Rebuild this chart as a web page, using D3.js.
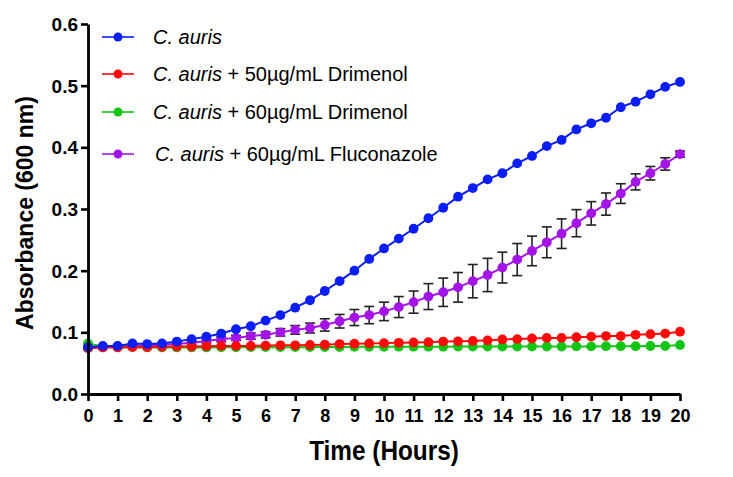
<!DOCTYPE html>
<html>
<head>
<meta charset="utf-8">
<script src="https://cdn.jsdelivr.net/npm/d3@7"></script>
<style>
  html, body { margin: 0; padding: 0; background: #fff; }
  svg { display: block; }
</style>
</head>
<body>
<svg id="chart" width="733" height="477"></svg>
<script>
const hours = d3.range(0, 20.01, 0.5);
const xTicks = d3.range(0, 21, 1);
const yTicks = [0.0, 0.1, 0.2, 0.3, 0.4, 0.5, 0.6];

const aurisControl = [0.076,0.078,0.078,0.082,0.081,0.082,0.085,0.089,0.093,0.098,0.105,0.110,0.119,0.128,0.140,0.152,0.167,0.183,0.200,0.219,0.236,0.252,0.268,0.285,0.302,0.320,0.334,0.348,0.358,0.374,0.386,0.402,0.412,0.429,0.439,0.448,0.465,0.474,0.486,0.498,0.506];
const drimenol50 = [0.074,0.0755,0.0755,0.076,0.076,0.0765,0.077,0.077,0.0775,0.078,0.078,0.078,0.0785,0.079,0.079,0.0795,0.080,0.081,0.0815,0.082,0.0825,0.083,0.0835,0.084,0.085,0.0855,0.086,0.087,0.0885,0.089,0.090,0.091,0.091,0.092,0.093,0.094,0.094,0.096,0.097,0.098,0.101];
const drimenol60 = [0.082,0.077,0.076,0.076,0.0755,0.0755,0.0755,0.0755,0.0755,0.0757,0.0757,0.076,0.076,0.076,0.076,0.076,0.0762,0.0762,0.0765,0.0765,0.0765,0.0767,0.0767,0.0767,0.0767,0.077,0.077,0.077,0.077,0.077,0.077,0.077,0.077,0.0772,0.0772,0.0775,0.0775,0.0775,0.0778,0.0778,0.0795];
const fluconazole60 = [0.075,0.076,0.077,0.078,0.079,0.080,0.081,0.083,0.086,0.089,0.091,0.094,0.096,0.100,0.104,0.107,0.112,0.118,0.124,0.128,0.134,0.141,0.149,0.158,0.165,0.173,0.183,0.193,0.205,0.218,0.232,0.246,0.260,0.277,0.293,0.308,0.325,0.344,0.358,0.373,0.389];
const fluconazoleErr = [0.002,0.002,0.002,0.002,0.002,0.002,0.002,0.003,0.003,0.004,0.004,0.005,0.005,0.006,0.007,0.008,0.010,0.011,0.013,0.014,0.015,0.017,0.018,0.021,0.023,0.024,0.027,0.027,0.025,0.026,0.024,0.025,0.024,0.022,0.019,0.018,0.016,0.013,0.011,0.010,0.005];

const seriesNames = ["C. auris", "C. auris + 50µg/mL Drimenol", "C. auris + 60µg/mL Drimenol", "C. auris + 60µg/mL Fluconazole"];
const seriesColors = ["#0a1ef5", "#ff0a0a", "#14c414", "#a414e6"];

const series = [
  {name: seriesNames[0], values: aurisControl, color: seriesColors[0]},
  {name: seriesNames[1], values: drimenol50, color: seriesColors[1]},
  {name: seriesNames[2], values: drimenol60, color: seriesColors[2]},
  {name: seriesNames[3], values: fluconazole60, color: seriesColors[3], err: fluconazoleErr}
];

const svg = d3.select("#chart");
const x = d3.scaleLinear().domain([0, 20]).range([88, 680]);
const y = d3.scaleLinear().domain([0, 0.6]).range([394, 24]);
const font = "'Liberation Sans', Arial, Helvetica, sans-serif";

// draw series (bottom to top: purple, green, red, blue)
const drawOrder = [3, 2, 1, 0];
const line = d3.line().x((d, i) => x(hours[i])).y(d => y(d));
drawOrder.forEach(si => {
  const s = series[si];
  const g = svg.append("g");
  g.append("path").datum(s.values)
    .attr("fill", "none").attr("stroke", s.color).attr("stroke-width", 2)
    .attr("d", line);
  if (s.err) {
    const eg = g.append("g").attr("stroke", "#222").attr("stroke-width", 1.6);
    s.values.forEach((v, i) => {
      const cx = x(hours[i]);
      const y1 = y(v + s.err[i]), y2 = y(v - s.err[i]);
      eg.append("line").attr("x1", cx).attr("x2", cx).attr("y1", y1).attr("y2", y2);
      eg.append("line").attr("x1", cx - 5).attr("x2", cx + 5).attr("y1", y1).attr("y2", y1);
      eg.append("line").attr("x1", cx - 5).attr("x2", cx + 5).attr("y1", y2).attr("y2", y2);
    });
  }
  g.selectAll("circle").data(s.values).enter().append("circle")
    .attr("cx", (d, i) => x(hours[i])).attr("cy", d => y(d))
    .attr("r", 4.9).attr("fill", s.color);
});

// axes
const xAxis = svg.append("g").attr("transform", "translate(0,394)")
  .call(d3.axisBottom(x).tickValues(xTicks).tickFormat(d3.format("d")).tickSize(7).tickPadding(8).tickSizeOuter(0));
const yAxis = svg.append("g").attr("transform", "translate(88,0)")
  .call(d3.axisLeft(y).tickValues(yTicks).tickFormat(d3.format(".1f")).tickSize(7).tickPadding(3).tickSizeOuter(0));
[xAxis, yAxis].forEach(a => {
  a.select(".domain").attr("stroke", "#000").attr("stroke-width", 2.8);
  a.selectAll(".tick line").attr("stroke", "#000").attr("stroke-width", 2.6);
  a.selectAll(".tick text").attr("fill", "#000").attr("font-family", font).attr("font-weight", "bold");
});
xAxis.selectAll(".tick text").attr("font-size", "18px").attr("dy", "0.72em");
yAxis.selectAll(".tick text").attr("font-size", "19px").attr("dy", "0.35em");

// axis titles
svg.append("text").attr("transform", "translate(384,460) scale(0.87,1)").attr("text-anchor", "middle")
  .attr("font-family", font).attr("font-weight", "bold").attr("font-size", "28px").attr("fill", "#000")
  .text("Time (Hours)");
svg.append("text").attr("transform", "translate(33,213) rotate(-90)").attr("text-anchor", "middle")
  .attr("font-family", font).attr("font-weight", "bold").attr("font-size", "23px").attr("fill", "#000")
  .text("Absorbance (600 nm)");

// legend
const legendY = [37, 74, 112, 154];
const legendTextX = [153, 153, 153, 155];
series.forEach((s, i) => {
  const lg = svg.append("g");
  lg.append("line").attr("x1", 102).attr("x2", 134).attr("y1", legendY[i]).attr("y2", legendY[i])
    .attr("stroke", s.color).attr("stroke-width", 1.6);
  lg.append("circle").attr("cx", 118).attr("cy", legendY[i]).attr("r", 4.5).attr("fill", s.color);
  const t = lg.append("text").attr("x", legendTextX[i]).attr("y", legendY[i]).attr("dy", "0.35em")
    .attr("font-family", font).attr("font-size", "20px").attr("fill", "#000");
  const parts = s.name.split("C. auris");
  t.append("tspan").attr("font-style", "italic").text("C. auris");
  if (parts[1]) t.append("tspan").text(parts[1]);
});
</script>
</body>
</html>
